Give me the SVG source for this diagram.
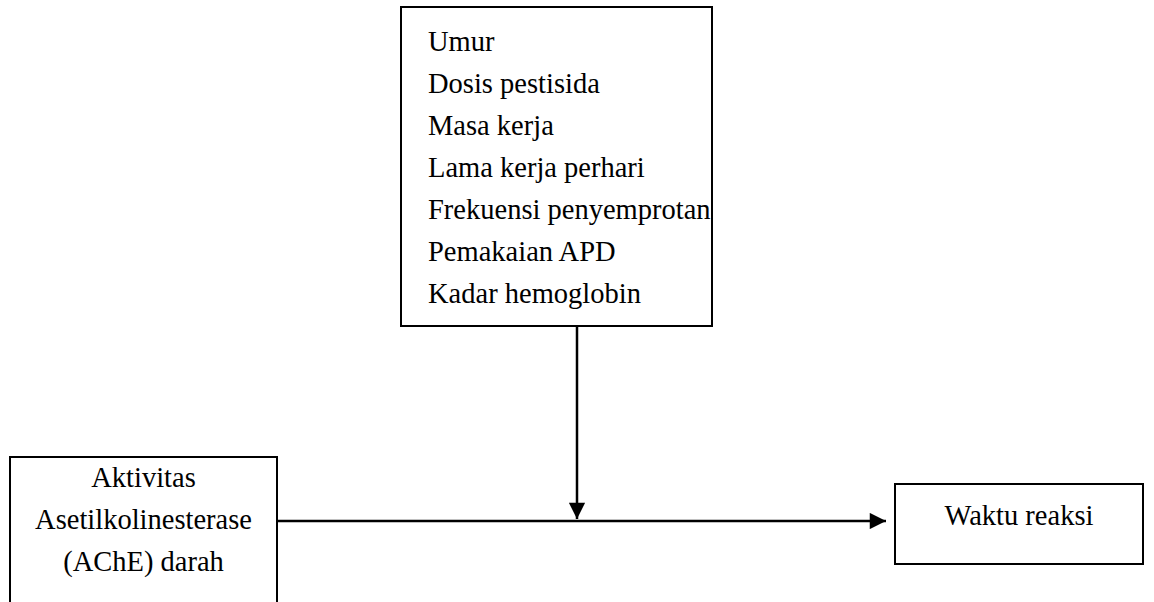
<svg xmlns="http://www.w3.org/2000/svg" width="1154" height="602" viewBox="0 0 1154 602">
<style>
.box{fill:#fff;stroke:#000;stroke-width:2}
.t{font-family:"Liberation Serif","Times New Roman",serif;font-size:28.5px;fill:#000}
.c{text-anchor:middle}
.ln{stroke:#000;stroke-width:2.5;fill:none}
</style>
<defs>
<marker id="ah" viewBox="0 0 10 10" refX="10" refY="5" markerWidth="7" markerHeight="6.5" markerUnits="strokeWidth" orient="auto">
<path d="M0,0 L10,5 L0,10 Z" fill="#000"/>
</marker>
</defs>
<g id="connectors">
<line class="ln" x1="277" y1="521" x2="886" y2="521" marker-end="url(#ah)"/>
<line class="ln" x1="577" y1="326" x2="577" y2="519" marker-end="url(#ah)"/>
</g>
<g id="factors">
<rect class="box" x="401" y="7" width="311" height="319"/>
<text class="t" x="428" y="51">Umur</text>
<text class="t" x="428" y="93">Dosis pestisida</text>
<text class="t" x="428" y="135">Masa kerja</text>
<text class="t" x="428" y="177">Lama kerja perhari</text>
<text class="t" x="428" y="219">Frekuensi penyemprotan</text>
<text class="t" x="428" y="261">Pemakaian APD</text>
<text class="t" x="428" y="303">Kadar hemoglobin</text>
</g>
<g id="ache">
<rect class="box" x="10" y="457" width="267" height="160"/>
<text class="t c" x="143.5" y="487">Aktivitas</text>
<text class="t c" x="143.5" y="529">Asetilkolinesterase</text>
<text class="t c" x="143.5" y="571">(AChE) darah</text>
</g>
<g id="waktu">
<rect class="box" x="895" y="484" width="248" height="80"/>
<text class="t c" x="1019" y="525">Waktu reaksi</text>
</g>
</svg>
